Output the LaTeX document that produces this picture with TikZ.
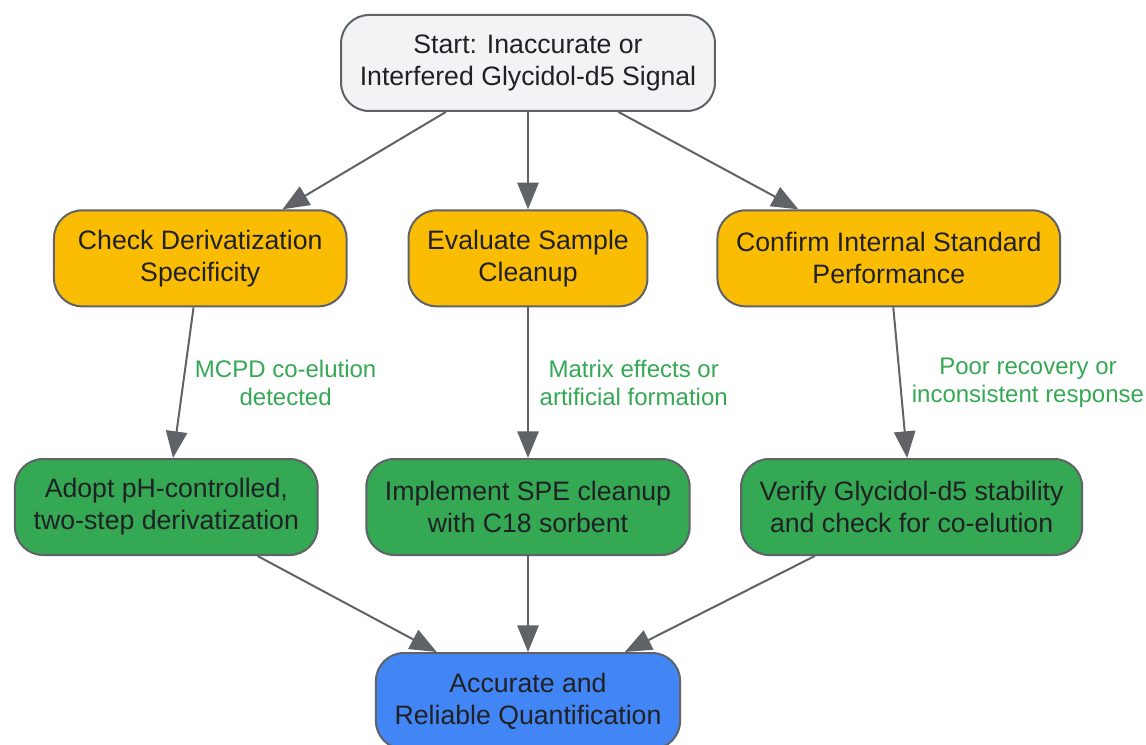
\documentclass[tikz,border=0pt]{standalone}
\usepackage{fontspec}
\setmainfont{Liberation Sans}
\usetikzlibrary{arrows.meta, positioning}
\definecolor{edgegray}{HTML}{5F6368}
\definecolor{startfill}{HTML}{F1F3F4}
\definecolor{checkfill}{HTML}{FBBC04}
\definecolor{fixfill}{HTML}{34A853}
\definecolor{endfill}{HTML}{4285F4}
\definecolor{textdark}{HTML}{202124}
\definecolor{labelgreen}{HTML}{34A853}
\tikzset{
  basebox/.style = {rectangle, rounded corners=21pt, draw=edgegray, line width=1.5pt, minimum height=72pt, inner xsep=14pt, align=center, text=textdark, font=\fontsize{20}{24}\selectfont},
  startbox/.style = {basebox, fill=startfill},
  checkbox/.style = {basebox, fill=checkfill},
  fixbox/.style = {basebox, fill=fixfill},
  endbox/.style = {basebox, fill=endfill},
  arrow/.style = {draw=edgegray, line width=1.5pt, -{Triangle[length=20pt, width=16pt]}},
  edgelabel/.style = {right, align=center, text=labelgreen, font=\fontsize{18}{21}\selectfont, inner xsep=8pt}
}
\begin{document}
\begin{tikzpicture}[x=0.75pt, y=-0.75pt, node distance=73pt and 45pt]
	\useasboundingbox (0,0) rectangle (1146,745);
	\node (Start) [startbox] at (528,63) {Start: Inaccurate or\\Interfered Glycidol-d5 Signal};
	\node (Evaluate) [checkbox, below = 73pt of Start] {Evaluate Sample\\Cleanup};
	\node (Check) [checkbox, left = 45pt of Evaluate, inner xsep=18pt] {Check Derivatization\\Specificity};
	\node (Confirm) [checkbox, right = 51pt of Evaluate] {Confirm Internal Standard\\Performance};
	\node (Implement) [fixbox, below = 113pt of Evaluate] {Implement SPE cleanup\\with C18 sorbent};
	\node (Adopt) [fixbox, left = 35pt of Implement] {Adopt pH-controlled,\\two-step derivatization};
	\node (Verify) [fixbox, right = 37pt of Implement] {Verify Glycidol-d5 stability\\and check for co-elution};
	\node (Accurate) [endbox, below = 72pt of Implement] {Accurate and\\Reliable Quantification};

	\draw [arrow] (Start) -- (Check);
	\draw [arrow] (Start) -- (Evaluate);
	\draw [arrow] (Start) -- (Confirm);
	\draw [arrow] (Check) -- node[edgelabel]{MCPD co-elution\\detected} (Adopt);
	\draw [arrow] (Evaluate) -- node[edgelabel]{Matrix effects or\\artificial formation} (Implement);
	\draw [arrow] (Confirm) -- node[edgelabel]{Poor recovery or\\inconsistent response} (Verify);
	\draw [arrow] (Adopt) -- (Accurate);
	\draw [arrow] (Implement) -- (Accurate);
	\draw [arrow] (Verify) -- (Accurate);
\end{tikzpicture}
\end{document}
